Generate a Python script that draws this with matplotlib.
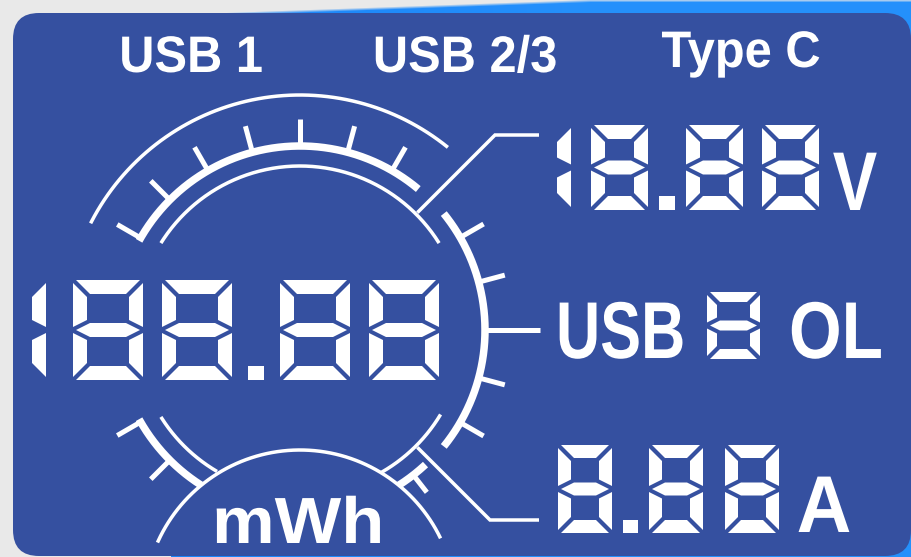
import numpy as np
import matplotlib.pyplot as plt
from matplotlib.patches import FancyBboxPatch, Polygon, Rectangle
from matplotlib.patheffects import AbstractPathEffect
from matplotlib.transforms import Affine2D

# what the display shows
top_labels = ['USB 1', 'USB 2/3', 'Type C']
energy_value = '188.88'
energy_unit = 'mWh'
voltage_value = '18.88'
voltage_unit = 'V'
port_label = 'USB'
port_digit = '8'
port_status = 'OL'
current_value = '8.88'
current_unit = 'A'

# gauge tick angles in degrees (0 = right, counter-clockwise)
top_ticks = [60, 75, 90, 105, 120, 135, 150]
right_ticks = [-30, -15, 15, 30]
lower_left_ticks = [-150, -135]
lower_right_ticks = [-52]

PANEL = '#3550a0'
WHITE = '#ffffff'
PX = 0.72  # pixels -> points at dpi 100
FONT = 'Liberation Sans'

SEGS = {'0': 'abcdef', '1': 'bc', '2': 'abged', '3': 'abgcd', '4': 'fgbc',
        '5': 'afgcd', '6': 'afgedc', '7': 'abc', '8': 'abcdefg', '9': 'abcdfg'}


class Squeeze(AbstractPathEffect):
    # horizontal squeeze of the glyphs around x0 (display px), like a condensed face
    def __init__(self, sx, x0):
        super().__init__()
        self.sx = sx
        self.x0 = x0

    def draw_path(self, renderer, gc, tpath, affine, rgbFace=None):
        extra = Affine2D().translate(-self.x0, 0).scale(self.sx, 1).translate(self.x0, 0)
        renderer.draw_path(gc, tpath, affine + extra, rgbFace)


def seg_shapes(x0, y0, w, h, t, g=3.0):
    ym = y0 + h / 2
    return {
        'a': [(x0 + g, y0), (x0 + w - g, y0), (x0 + w - t - g, y0 + t), (x0 + t + g, y0 + t)],
        'd': [(x0 + g, y0 + h), (x0 + w - g, y0 + h), (x0 + w - t - g, y0 + h - t), (x0 + t + g, y0 + h - t)],
        'f': [(x0, y0 + g), (x0 + t, y0 + t + g), (x0 + t, ym - t / 2 - g), (x0, ym - g)],
        'e': [(x0, ym + g), (x0 + t, ym + t / 2 + g), (x0 + t, y0 + h - t - g), (x0, y0 + h - g)],
        'b': [(x0 + w, y0 + g), (x0 + w - t, y0 + t + g), (x0 + w - t, ym - t / 2 - g), (x0 + w, ym - g)],
        'c': [(x0 + w, ym + g), (x0 + w - t, ym + t / 2 + g), (x0 + w - t, y0 + h - t - g), (x0 + w, y0 + h - g)],
        'g': [(x0 + g, ym), (x0 + t + g, ym - t / 2), (x0 + w - t - g, ym - t / 2),
              (x0 + w - g, ym), (x0 + w - t - g, ym + t / 2), (x0 + t + g, ym + t / 2)],
    }


def draw_digit(ax, ch, x0, y0, w, h, t):
    shapes = seg_shapes(x0, y0, w, h, t)
    for s in SEGS[ch]:
        ax.add_patch(Polygon(shapes[s], closed=True, fc=WHITE, ec='none'))


def draw_number(ax, text, x, y, w, h, t, gap, gap1, dotgap):
    prev = None
    for i, ch in enumerate(text):
        if prev is not None:
            if ch == '.' or prev == '.':
                x += dotgap
            elif prev == '1' and i == 1:
                x += gap1
            else:
                x += gap
        if ch == '.':
            ax.add_patch(Rectangle((x, y + h - t), t + 2, t, fc=WHITE, ec='none'))
            x += t + 2
        elif ch == '1' and i == 0:
            draw_digit(ax, ch, x - (w - t), y, w, h, t)
            x += t
        else:
            draw_digit(ax, ch, x, y, w, h, t)
            x += w
        prev = ch


def label(ax, x, y, s, size, sx=1.0, ha='center'):
    x0 = ax.transData.transform((x, y))[0]
    ax.text(x, y, s, color=WHITE, fontsize=size, family=FONT, weight='bold',
            ha=ha, va='baseline', path_effects=[Squeeze(sx, x0)])


def arc(ax, cx, cy, r, a0, a1, lw):
    th = np.radians(np.linspace(a0, a1, 200))
    ax.plot(cx + r * np.cos(th), cy - r * np.sin(th), color=WHITE,
            lw=lw * PX, solid_capstyle='butt')


def ray(ax, cx, cy, a, r0, r1, lw):
    th = np.radians(a)
    ax.plot([cx + r0 * np.cos(th), cx + r1 * np.cos(th)],
            [cy - r0 * np.sin(th), cy - r1 * np.sin(th)], color=WHITE,
            lw=lw * PX, solid_capstyle='butt')


fig = plt.figure(figsize=(9.12, 5.57), dpi=100)
ax = fig.add_axes([0, 0, 1, 1])
ax.set_xlim(0, 912)
ax.set_ylim(557, 0)
ax.axis('off')

# backdrop: light grey with a blue glow along the top edge
H, W = 557, 912
yy, xx = np.mgrid[0:H, 0:W]
reach = np.clip((xx - 170) / 420.0, 0, 1)
glow = np.clip((yy - (14 - 15 * reach)) / 3.0, 0, 1) * (reach > 0)
glow = np.maximum(glow, np.clip((xx - 880) / 25.0, 0, 1) * np.clip((yy - 480) / 60.0, 0, 1))
grey = np.array([0.915, 0.915, 0.915])
blue = np.array([0.10, 0.52, 0.98]) * (1 - reach[..., None] * 0.3) + np.array([0.25, 0.68, 1.0]) * (reach[..., None] * 0.3)
bg = grey * (1 - glow[..., None]) + blue * glow[..., None]
ax.imshow(bg, extent=(0, W, H, 0), zorder=0)

ax.add_patch(FancyBboxPatch((13, 13), 898, 543, boxstyle='round,pad=0,rounding_size=26',
                            fc=PANEL, ec='none', zorder=1))

# header labels
label_x = [191, 465, 741]
label_base = [72, 72, 67]
for s, lx, ly in zip(top_labels, label_x, label_base):
    label(ax, lx, ly, s, 37, sx=0.95)

# gauge around the energy reading
cx, cy = 300, 330
arc(ax, cx, cy, 235, 51, 153, 3.5)
arc(ax, cx, cy, 184, 50, 151, 7.5)
for a in top_ticks:
    ray(ax, cx, cy, a, 182, 211, 5)
arc(ax, cx, cy, 164, 32, 148, 3.5)

arc(ax, cx, cy, 185, -39, 39, 7.5)
for a in right_ticks:
    ray(ax, cx, cy, a, 183, 212, 5)
ray(ax, cx, cy, 0, 183, 240, 5)

arc(ax, cx, cy, 164, -120.4, -148, 3.5)
arc(ax, cx, cy, 184, -122.5, -151, 7.5)
for a in lower_left_ticks:
    ray(ax, cx, cy, a, 182, 211, 5)

arc(ax, cx, cy, 164, -31, -60.4, 3.5)
arc(ax, cx, cy, 184, -57.5, -47, 7.5)
for a in lower_right_ticks:
    ray(ax, cx, cy, a, 182, 206, 5)

# arc over the unit
arc(ax, 300, 606, 156, 25.7, 156, 3.5)

# leader lines to the right-hand readings
for a, yend in [(45, 135), (-45, 520)]:
    th = np.radians(a)
    x1, y1 = cx + 166 * np.cos(th), cy - 166 * np.sin(th)
    r2 = abs(yend - cy) / abs(np.sin(th))
    x2, y2 = cx + r2 * np.cos(th), yend
    ax.plot([x1, x2, 539], [y1, y2, yend], color=WHITE, lw=3.5 * PX,
            solid_joinstyle='miter', solid_capstyle='butt')

# seven-segment readings
draw_number(ax, energy_value, 32, 280, 70, 100, 14, 19, 27, 16)
draw_number(ax, voltage_value, 557, 125, 57, 85, 14, 19, 20, 11)
draw_number(ax, current_value, 558, 445, 54, 88, 13, 22, 20, 11)
draw_digit(ax, port_digit, 707, 292, 53, 67, 10)

label(ax, 298, 543, energy_unit, 47, sx=1.08)
label(ax, 855, 210, voltage_unit, 60, sx=0.8)
label(ax, 556, 358, port_label, 58, sx=0.76, ha='left')
label(ax, 789, 358, port_status, 58, sx=0.84, ha='left')
label(ax, 824, 532, current_unit, 58, sx=0.94)

fig.savefig('out.png', dpi=100)
